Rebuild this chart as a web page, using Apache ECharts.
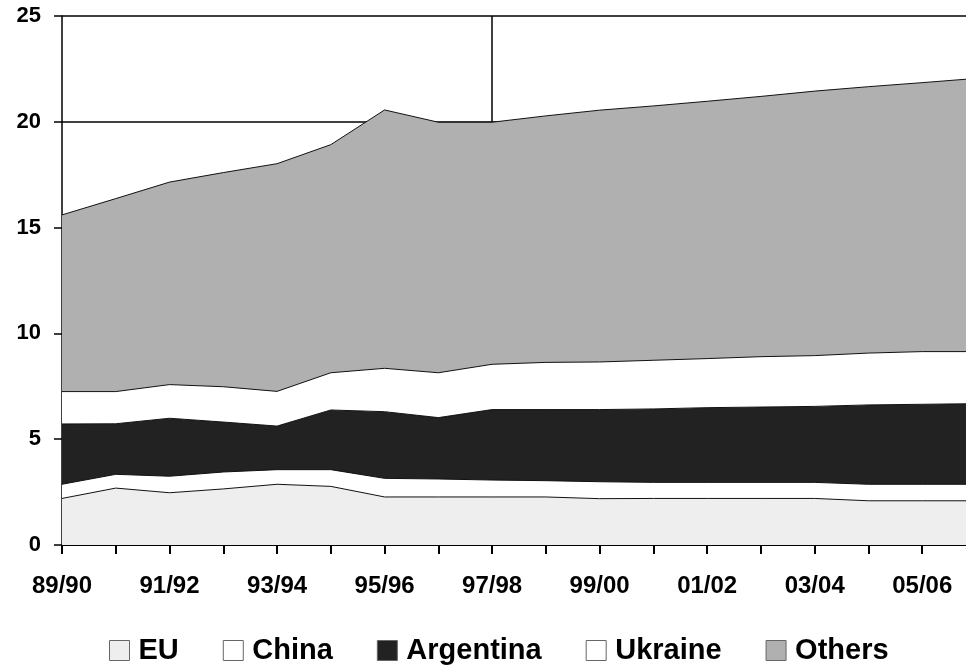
<!DOCTYPE html>
<html>
<head>
<meta charset="utf-8">
<script src="https://cdn.jsdelivr.net/npm/echarts@6/dist/echarts.min.js"></script>
<style>html,body{margin:0;padding:0;background:#fff;overflow:hidden;width:966px;height:669px}#c{width:986px;height:669px}</style>
</head>
<body>
<div id="c"></div>
<script>
var categories = ['89/90','90/91','91/92','92/93','93/94','94/95','95/96','96/97','97/98','98/99','99/00','00/01','01/02','02/03','03/04','04/05','05/06','06/07'];
var eu        = [2.20,2.69,2.47,2.65,2.87,2.77,2.27,2.27,2.27,2.27,2.19,2.20,2.20,2.20,2.20,2.09,2.09,2.09];
var china     = [0.67,0.65,0.78,0.80,0.69,0.79,0.88,0.85,0.80,0.77,0.80,0.76,0.76,0.76,0.76,0.78,0.78,0.78];
var argentina = [2.85,2.39,2.74,2.36,2.06,2.82,3.15,2.90,3.33,3.36,3.41,3.47,3.53,3.56,3.59,3.75,3.78,3.81];
var ukraine   = [1.53,1.52,1.59,1.67,1.64,1.76,2.05,2.12,2.14,2.23,2.25,2.30,2.32,2.38,2.40,2.45,2.49,2.46];
var others    = [8.35,9.12,9.57,10.12,10.76,10.78,12.21,11.84,11.44,11.65,11.90,12.02,12.16,12.30,12.50,12.59,12.71,12.91];
var yTicks = [0,5,10,15,20,25];

var font = '"Liberation Sans", Arial, sans-serif';
function mk(name, data, color) {
  return {
    name: name, type: 'line', stack: 'all', data: data,
    showSymbol: false, symbol: 'none', smooth: false,
    lineStyle: { color: '#111', width: 1 },
    areaStyle: { color: color, opacity: 1 },
    itemStyle: { color: color, borderColor: '#555', borderWidth: 1 },
    emphasis: { disabled: true },
    z: 2
  };
}
var series = [
  mk('EU', eu, '#eeeeee'),
  mk('China', china, '#ffffff'),
  mk('Argentina', argentina, '#222222'),
  mk('Ukraine', ukraine, '#ffffff'),
  mk('Others', others, '#b0b0b0')
];
series[4].markLine = {
  silent: true, symbol: ['none','none'], label: { show: false },
  lineStyle: { color: '#000', width: 1.5, type: 'solid' },
  data: [[{ coord: ['97/98', 20] }, { coord: ['97/98', 25] }]]
};

var chart = echarts.init(document.getElementById('c'), null, { renderer: 'canvas' });
chart.setOption({
  animation: false,
  backgroundColor: '#ffffff',
  grid: { left: 62, top: 16, bottom: 124, right: 10, containLabel: false },
  legend: {
    data: ['EU','China','Argentina','Ukraine','Others'],
    left: 104, top: 631,
    icon: 'rect', itemWidth: 20, itemHeight: 20, itemGap: 44,
    itemStyle: { borderColor: '#666', borderWidth: 1 },
    textStyle: { fontFamily: font, fontWeight: 'bold', fontSize: 29, color: '#000', padding: [0,0,0,4] },
    selectedMode: false
  },
  xAxis: {
    type: 'category', data: categories, boundaryGap: false,
    axisLine: { show: true, lineStyle: { color: '#000', width: 2 } },
    axisTick: { show: true, inside: false, length: 9, interval: 0, lineStyle: { color: '#000', width: 2 } },
    axisLabel: { interval: 1, margin: 29, fontFamily: font, fontWeight: 'bold', fontSize: 24, color: '#000' },
    splitLine: { show: false }
  },
  yAxis: {
    type: 'value', min: yTicks[0], max: yTicks[yTicks.length-1], interval: 5,
    axisLine: { show: true, lineStyle: { color: '#000', width: 1.5 } },
    axisTick: { show: true, inside: false, length: 8, lineStyle: { color: '#000', width: 1.5 } },
    axisLabel: { margin: 21, fontFamily: font, fontWeight: 'bold', fontSize: 22, color: '#000' },
    splitLine: { show: true, lineStyle: { color: '#000', width: 1.5 } }
  },
  series: series
});
</script>
</body>
</html>
